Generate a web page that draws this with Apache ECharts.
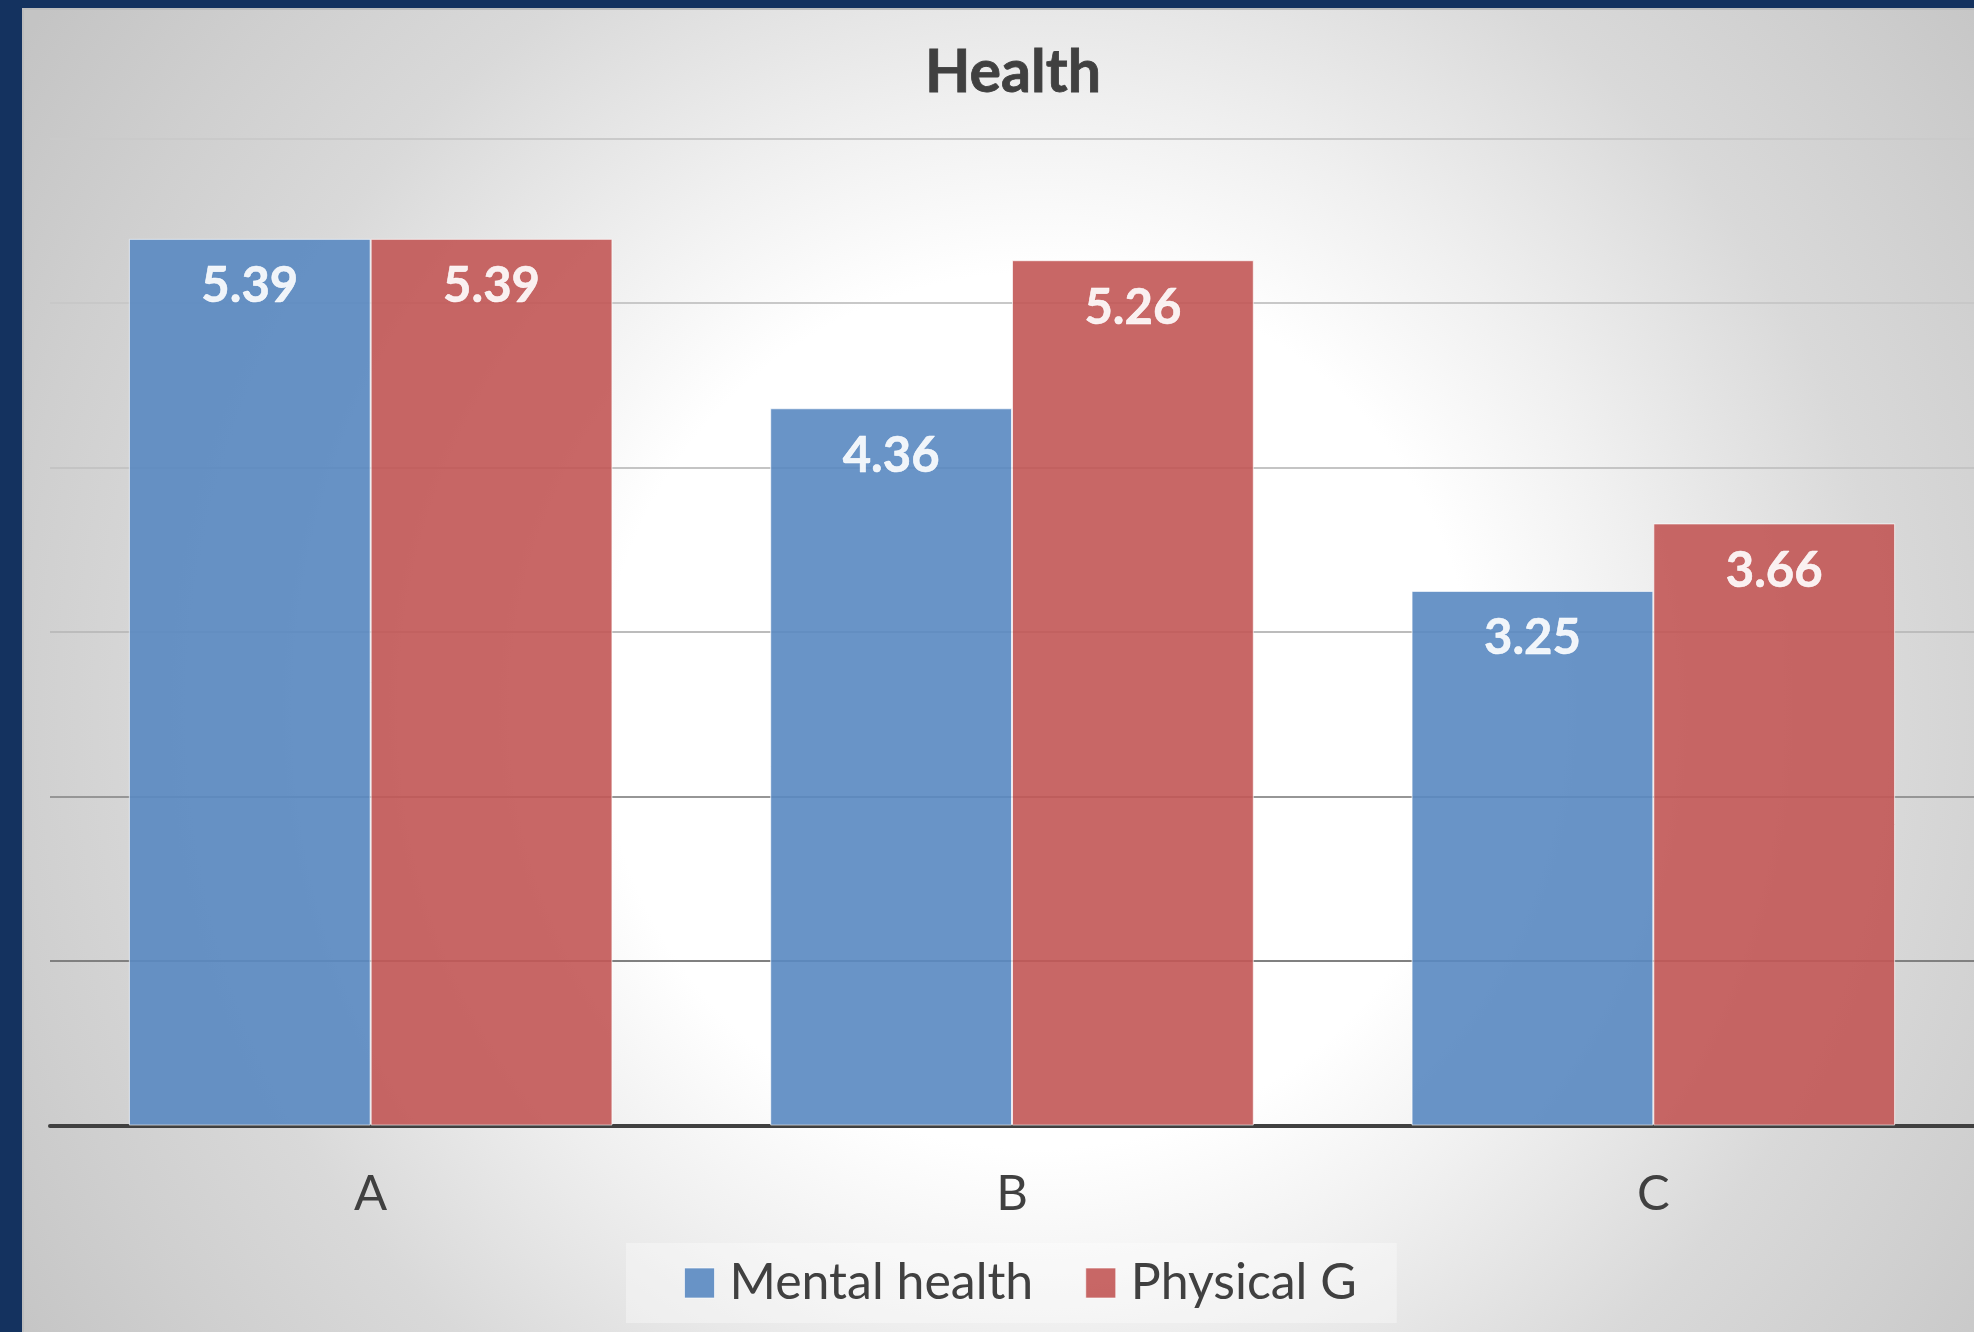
<!DOCTYPE html>
<html>
<head>
<meta charset="utf-8">
<script src="https://cdn.jsdelivr.net/npm/echarts@6/dist/echarts.min.js"></script>
<style>
  html, body { margin: 0; padding: 0; background: #14325f; width: 1974px; height: 1332px; overflow: hidden; }
  #chart { position: absolute; left: 22px; top: 8px; width: 1950px; height: 1322px;
           border-left: 2px solid #bdbdbd; border-top: 2px solid #bdbdbd; }
</style>
</head>
<body>
<div id="chart"></div>
<script>
const categories = ['A', 'B', 'C'];
const mentalHealth = [5.39, 4.36, 3.25];
const physicalG = [5.39, 5.26, 3.66];
const seriesNames = ['Mental health', 'Physical G'];
const titleText = 'Health';

const chart = echarts.init(document.getElementById('chart'), null, { renderer: 'canvas' });
const FONT = 'Lato, "Open Sans", sans-serif';

const labelCfg = {
  show: true,
  position: 'insideTop',
  distance: 23,
  color: '#ffffff',
  fontFamily: FONT,
  fontWeight: 'bold',
  fontSize: 49,
  textBorderColor: '#ffffff',
  textBorderWidth: 0.6,
  formatter: p => p.value.toFixed(2)
};

chart.setOption({
  backgroundColor: {
    type: 'radial', x: 0.52, y: 0.53, r: 0.92,
    colorStops: [
      { offset: 0, color: '#ffffff' },
      { offset: 0.36, color: '#ffffff' },
      { offset: 0.5, color: '#f0f0f0' },
      { offset: 0.7, color: '#d9d9d9' },
      { offset: 0.85, color: '#cfcfcf' },
      { offset: 1, color: '#c4c4c4' }
    ]
  },
  animation: false,
  title: {
    text: titleText,
    left: 984,
    textAlign: 'center',
    top: 28,
    textStyle: { fontFamily: FONT, fontWeight: 'bold', fontSize: 59, color: '#404040',
                 textBorderColor: '#404040', textBorderWidth: 0.8 }
  },
  legend: {
    data: seriesNames,
    left: 602,
    top: 1233,
    padding: [15, 40, 15, 58],
    backgroundColor: 'rgba(255,255,255,0.35)',
    itemWidth: 30,
    itemHeight: 30,
    itemGap: 52,
    icon: 'rect',
    itemStyle: { borderColor: 'rgba(255,255,255,0.7)', borderWidth: 1 },
    textStyle: { fontFamily: FONT, fontSize: 50, color: '#404040', padding: [0, 0, 0, 10] }
  },
  grid: { left: 26, right: 0, top: 128.5, bottom: 206.5, containLabel: false },
  xAxis: {
    type: 'category',
    data: categories,
    axisLine: { show: true, lineStyle: { color: '#404040', width: 4 } },
    axisTick: { show: false },
    axisLabel: { fontFamily: FONT, fontSize: 49, color: '#404040', margin: 44 },
    splitLine: { show: false }
  },
  yAxis: {
    type: 'value',
    min: 0, max: 6, interval: 1,
    axisLabel: { show: false },
    axisLine: { show: false },
    axisTick: { show: false },
    splitLine: { show: true, lineStyle: { width: 2, color: ['#808080', '#808080', '#969696', '#bcbcbc', '#c4c4c4', '#c8c8c8', '#cacaca'] } }
  },
  series: [
    {
      name: seriesNames[0], type: 'bar', data: mentalHealth,
      barGap: '0%', barCategoryGap: '24.6%',
      itemStyle: { color: '#5988c1', opacity: 0.9, borderColor: 'rgba(255,255,255,0.75)', borderWidth: 1 },
      label: labelCfg
    },
    {
      name: seriesNames[1], type: 'bar', data: physicalG,
      barGap: '0%', barCategoryGap: '24.6%',
      itemStyle: { color: '#c25755', opacity: 0.9, borderColor: 'rgba(255,255,255,0.75)', borderWidth: 1 },
      label: labelCfg
    }
  ]
});
</script>
</body>
</html>
